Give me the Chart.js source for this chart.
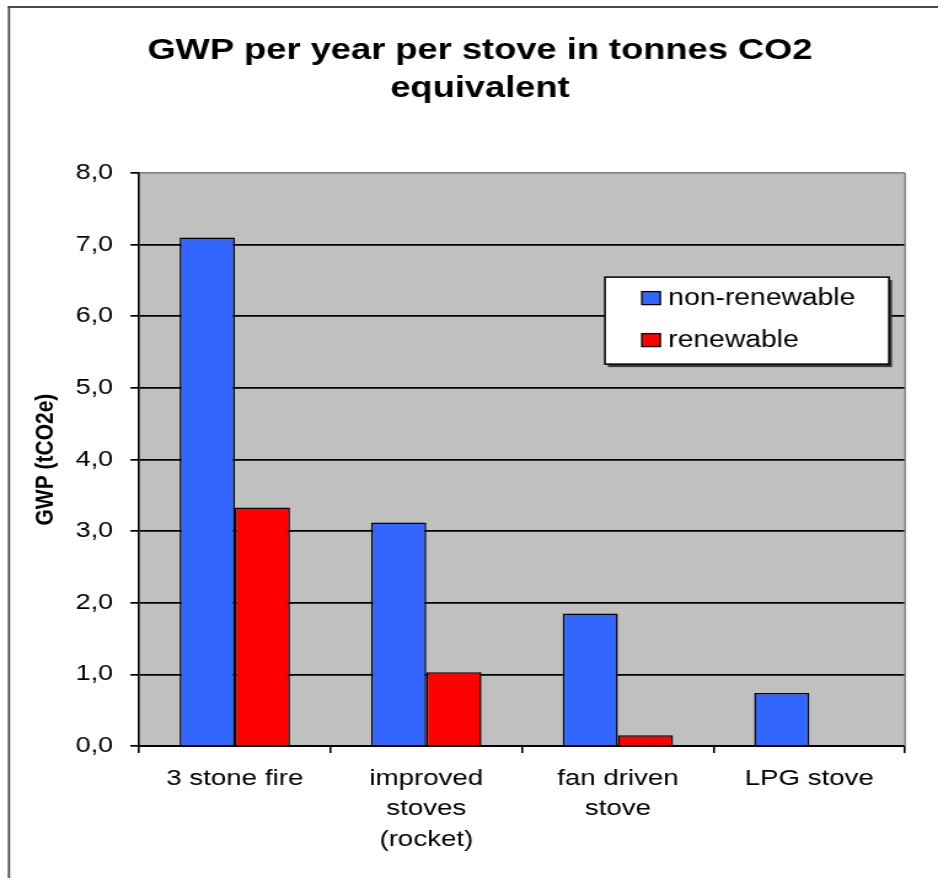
<!DOCTYPE html>
<html>
<head>
<meta charset="utf-8">
<script src="https://cdn.jsdelivr.net/npm/chart.js@4/dist/chart.umd.min.js"></script>
<style>
  html, body { margin: 0; padding: 0; background: #fff; overflow: hidden; }
  /* the chart is drawn on a narrower canvas and widened, giving the wide lettering */
  #wrap { width: 763px; height: 878px; transform: scaleX(1.229358); transform-origin: 0 0; }
  canvas { display: block; }
</style>
</head>
<body>
<div id="wrap"><canvas id="c" width="763" height="878"></canvas></div>
<script>
// GWP per stove type, tonnes CO2 equivalent per year
const categories = [
  ['3 stone fire'],
  ['improved', 'stoves', '(rocket)'],
  ['fan driven', 'stove'],
  ['LPG stove']
];
const nonRenewable = [7.10, 3.12, 1.85, 0.74];
const renewable = [3.33, 1.03, 0.15, 0];
const yTickLabels = ['0,0', '1,0', '2,0', '3,0', '4,0', '5,0', '6,0', '7,0', '8,0'];
const seriesNames = ['non-renewable', 'renewable'];
const titleLines = ['GWP per year per stove in tonnes CO2', 'equivalent'];
const yTitle = 'GWP (tCO2e)';

const FONT = "'Liberation Sans', Arial, sans-serif";

// white page, frame, grey plot area and its grey top/right edges
const backdrop = {
  id: 'backdrop',
  beforeDraw(chart) {
    const { ctx, chartArea: ca, width, height } = chart;
    ctx.save();
    ctx.fillStyle = '#ffffff';
    ctx.fillRect(0, 0, width, height);
    ctx.fillStyle = '#c0c0c0';
    ctx.fillRect(ca.left, ca.top, ca.right - ca.left, ca.bottom - ca.top);
    ctx.strokeStyle = '#4a4a4a';
    ctx.lineWidth = 2;
    ctx.beginPath();
    ctx.moveTo(6.3, 7);
    ctx.lineTo(width, 7);
    ctx.stroke();
    ctx.lineWidth = 1.8;
    ctx.beginPath();
    ctx.moveTo(7.3, 6);
    ctx.lineTo(7.3, height);
    ctx.stroke();
    ctx.restore();
  },
  beforeDatasetsDraw(chart) {
    const { ctx, chartArea: ca } = chart;
    ctx.save();
    ctx.strokeStyle = '#858585';
    ctx.lineWidth = 1.6;
    ctx.beginPath();
    ctx.moveTo(ca.right, ca.top);
    ctx.lineTo(ca.right, ca.bottom);
    ctx.stroke();
    ctx.restore();
  }
};

// legend box floating inside the plot area
const boxLegend = {
  id: 'boxLegend',
  afterDraw(chart) {
    const { ctx, chartArea: ca } = chart;
    const bx = ca.left + 379, by = ca.top + 104, bw = 231, bh = 87;
    ctx.save();
    ctx.fillStyle = '#3a3a3a';
    ctx.fillRect(bx + 2.5, by + 3, bw, bh);
    ctx.fillStyle = '#ffffff';
    ctx.fillRect(bx, by, bw, bh);
    ctx.strokeStyle = '#000';
    ctx.lineWidth = 1.5;
    ctx.strokeRect(bx, by, bw, bh);
    ctx.font = '23px ' + FONT;
    ctx.textBaseline = 'middle';
    ctx.textAlign = 'left';
    chart.data.datasets.forEach((ds, i) => {
      const cy = by + 21 + i * 42;
      ctx.fillStyle = ds.backgroundColor;
      ctx.fillRect(bx + 30, cy - 6.5, 15, 13);
      ctx.strokeStyle = '#000';
      ctx.lineWidth = 1.3;
      ctx.strokeRect(bx + 30, cy - 6.5, 15, 13);
      ctx.fillStyle = '#000';
      ctx.fillText(ds.label, bx + 51.5, cy + 1);
    });
    ctx.restore();
  }
};

new Chart(document.getElementById('c'), {
  type: 'bar',
  data: {
    labels: categories,
    datasets: [
      {
        label: seriesNames[0],
        data: nonRenewable,
        backgroundColor: '#3366ff',
        borderColor: '#000',
        borderWidth: 1.5,
        borderSkipped: 'start'
      },
      {
        label: seriesNames[1],
        data: renewable,
        backgroundColor: '#ff0000',
        borderColor: '#000',
        borderWidth: 1.5,
        borderSkipped: 'start'
      }
    ]
  },
  options: {
    responsive: false,
    animation: false,
    devicePixelRatio: 1,
    layout: { padding: { left: 17.8, right: 0, top: 0, bottom: 0 } },
    datasets: { bar: { categoryPercentage: 0.576, barPercentage: 1 } },
    plugins: {
      legend: { display: false },
      tooltip: { enabled: false },
      title: {
        display: true,
        text: titleLines,
        color: '#000',
        font: { family: FONT, size: 29.5, weight: 'bold', lineHeight: 1.29 },
        padding: { top: 32, bottom: 65 }
      }
    },
    scales: {
      x: {
        grid: {
          display: true,
          drawOnChartArea: false,
          offset: true,
          color: '#000',
          lineWidth: 1.6,
          tickLength: 7
        },
        border: { color: '#000', width: 2 },
        ticks: {
          color: '#000',
          font: { family: FONT, size: 22.5, lineHeight: 1.34 },
          padding: 11,
          maxRotation: 0,
          autoSkip: false
        },
        afterFit(s) { s.height = 132; }
      },
      y: {
        min: 0,
        max: 8,
        grid: {
          color: (c) => (c.tick && c.tick.value === 8 ? '#858585' : '#000'),
          lineWidth: 1.7,
          tickColor: '#000',
          tickLength: 7
        },
        border: { color: '#000', width: 1.6 },
        ticks: {
          stepSize: 1,
          color: '#000',
          padding: 14,
          font: { family: FONT, size: 22 },
          callback: (v, i) => yTickLabels[i]
        },
        title: {
          display: true,
          text: yTitle,
          color: '#000',
          font: { family: FONT, size: 21, weight: 'bold', lineHeight: 1.2 },
          padding: { top: 6.5, bottom: 0 }
        },
        afterFit(s) { s.width = 95.3; }
      },
      yRight: {
        type: 'linear',
        position: 'right',
        display: true,
        grid: { display: false },
        border: { display: false },
        ticks: { display: false },
        afterFit(s) { s.width = 26.8; }
      }
    }
  },
  plugins: [backdrop, boxLegend]
});
</script>
</body>
</html>
